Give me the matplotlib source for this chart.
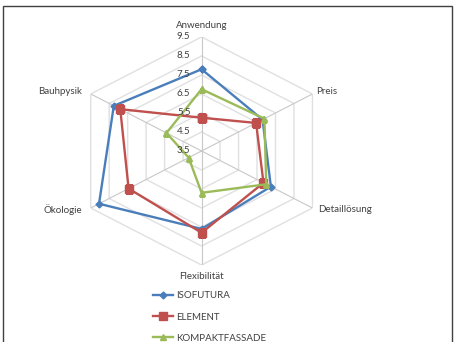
import numpy as np
import matplotlib
matplotlib.use("Agg")
import matplotlib.pyplot as plt
from matplotlib.patches import Rectangle

categories = ["Anwendung", "Preis", "Detaillösung", "Flexibilität", "Ökologie", "Bauhpysik"]
isofutura = [7.8, 6.8, 7.25, 7.6, 9.05, 8.25]
element = [5.25, 6.45, 6.85, 7.8, 7.45, 7.9]
kompakt = [6.75, 6.9, 7.0, 5.7, 4.2, 5.4]
ring_values = [3.5, 4.5, 5.5, 6.5, 7.5, 8.5, 9.5]

plt.rcParams['font.family'] = ['Lato', 'DejaVu Sans']

fig = plt.figure(figsize=(4.54, 3.42), dpi=100)
ax = fig.add_axes([0.162, 0.225, 0.564, 0.667], projection="polar")
ax.set_aspect("auto")
ax.set_theta_offset(np.pi / 2)
ax.set_theta_direction(-1)
ax.set_ylim(3.5, 9.5)
ax.grid(False)
ax.spines["polar"].set_visible(False)
ax.set_xticks([])
ax.set_yticks([])

n = len(categories)
angles = np.linspace(0, 2 * np.pi, n, endpoint=False)
closed = np.append(angles, angles[0])

# hexagonal grid rings and spokes
for r in ring_values[1:]:
    ax.plot(closed, [r] * (n + 1), color="#e0e0e0", lw=1.0, zorder=1)
for a in angles:
    ax.plot([a, a], [3.5, 9.5], color="#c8c8c8", lw=0.8, zorder=1)

series = [
    ("ISOFUTURA", isofutura, "#4a7ebb", "D", 3.5),
    ("ELEMENT", element, "#c0504d", "s", 6),
    ("KOMPAKTFASSADE", kompakt, "#9bbb59", "^", 4.5),
]
for name, vals, col, mk, ms in series:
    ax.plot(closed, vals + vals[:1], color=col, lw=1.7, marker=mk, ms=ms,
            markerfacecolor=col, markeredgecolor=col, label=name, zorder=3)

# radial tick labels along the top axis
for v in ring_values:
    ax.annotate(f"{v}", (0, v), xytext=(-8, 0), textcoords="offset points",
                ha="right", va="center", fontsize=7, color="#404040")

# category labels
label_pos = [
    ((0, 8), "center", "center"),
    ((3, 2), "left", "center"),
    ((4, -1), "left", "center"),
    ((0, -8), "center", "center"),
    ((-6, -1), "right", "center"),
    ((-6, 2), "right", "center"),
]
for a, cat, (off, ha, va) in zip(angles, categories, label_pos):
    ax.annotate(cat, (a, 9.5), xytext=off, textcoords="offset points",
                ha=ha, va=va, fontsize=7, color="#404040")

ax.legend(loc="upper left", bbox_to_anchor=(0.338, 0.148),
          bbox_transform=fig.transFigure, frameon=False, fontsize=7,
          handlelength=2.0, handletextpad=0.3, labelspacing=1.25,
          borderpad=0, borderaxespad=0, labelcolor="#404040")

fig.patches.append(Rectangle((3 / 454, -0.05), 449 / 454, 1.05 - 6 / 342,
                             transform=fig.transFigure, fill=False,
                             edgecolor="#404040", lw=1.0))

fig.savefig("out.png", dpi=100)
